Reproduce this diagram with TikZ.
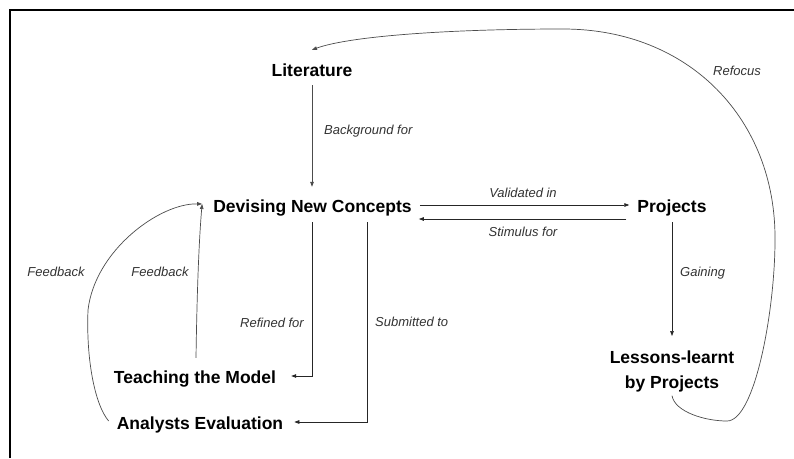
\documentclass[tikz,border=0pt]{standalone}
\usepackage{fontspec}
\setmainfont{Liberation Sans}
\usetikzlibrary{arrows.meta}
\begin{document}
\begin{tikzpicture}[x=1pt,y=-1pt,
  concept/.style={font=\fontsize{17.5}{25}\selectfont\bfseries, inner sep=0pt,
                  text height=13pt, text depth=4pt, anchor=base},
  multi/.style={font=\fontsize{17.5}{25}\selectfont\bfseries, inner sep=0pt, align=center},
  relation/.style={font=\fontsize{13}{15}\selectfont\itshape, text=black!80, inner sep=0pt},
  link/.style={draw=black!85, line width=0.7pt, -{Triangle[length=5pt,width=3.6pt]}},
  softlink/.style={link, draw=black!70},
]
\useasboundingbox (0,0) rectangle (794,458);
\fill[white] (0,0) rectangle (794,458);

% frame
\draw[line width=2pt] (10,458) -- (10,10) -- (794,10);

% concepts
\node[concept] (lit)   at (312,76)    {Literature};
\node[concept] (dev)   at (312.5,212) {Devising New Concepts};
\node[concept] (proj)  at (672,212)   {Projects};
\node[multi, anchor=north] (less) at (672,351) {Lessons-learnt\\by Projects};
\node[concept] (teach) at (195,383)   {Teaching the Model};
\node[concept] (anal)  at (200,429)   {Analysts Evaluation};

% relations
\draw[softlink] ([yshift=-5pt]lit.south) -- ([yshift=12pt]lit.south |- dev.north);
\node[relation, anchor=west] (bg) at (324,131) {Background for};

\draw[link] ([xshift=8pt,yshift=2.5pt]dev.east) -- ([xshift=-8pt,yshift=2.5pt]proj.west);
\node[relation] (val) at (523,193) {Validated in};

\draw[link] ([xshift=-11pt,yshift=-11.5pt]proj.west) -- ([xshift=7pt,yshift=-11.5pt]dev.east);
\node[relation] (stim) at (523,232) {Stimulus for};

\draw[link] ([yshift=-6pt]proj.south) -- ([yshift=15pt]proj.south |- less.north);
\node[relation, anchor=west] (gain) at (680,273) {Gaining};

\draw[softlink] ([yshift=-3pt]less.south)
   .. controls (675,412) and (705,421) .. (727,421)
   .. controls (755,421) and (775,310) .. (775,240)
   .. controls (776,120) and (690,29) .. (563,29)
   .. controls (450,29) and (350,36) .. ([yshift=13pt]lit.north);
\node[relation] (refoc) at (737,71) {Refocus};

\draw[link] ([yshift=-6pt]dev.south) |- ([xshift=15pt,yshift=2.5pt]teach.east);
\node[relation] (ref) at (272,323) {Refined for};

\draw[link] ([xshift=55pt,yshift=-6pt]dev.south) |- ([xshift=11pt,yshift=2.5pt]anal.east);
\node[relation, anchor=west] (sub) at (375,322) {Submitted to};

\draw[softlink] ([xshift=1pt,yshift=12pt]teach.north)
   .. controls (197,290) and (199,240) .. ([xshift=-11pt,yshift=3.5pt]dev.west);
\node[relation] (fb1) at (160,272) {Feedback};

\draw[softlink] ([xshift=-8pt,yshift=3.5pt]anal.west)
   .. controls (95,405) and (86,360) .. (88,310)
   .. controls (95,250) and (160,203) .. ([xshift=-11pt,yshift=3.5pt]dev.west);
\node[relation] (fb2) at (56,272) {Feedback};
\end{tikzpicture}
\end{document}
